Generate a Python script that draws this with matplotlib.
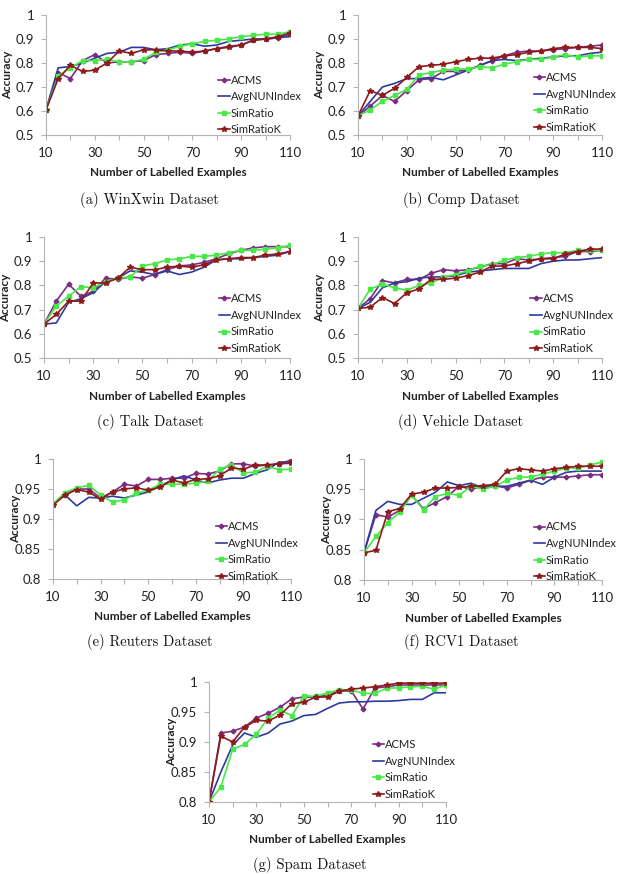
import matplotlib
matplotlib.use('Agg')
import matplotlib.pyplot as plt
from matplotlib.ticker import MultipleLocator, FixedLocator, FuncFormatter

# number of labelled examples (x axis)
n_labelled = [10, 15, 20, 25, 30, 35, 40, 45, 50, 55, 60, 65, 70, 75, 80, 85, 90, 95, 100, 105, 110]
x_ticks = [10, 30, 50, 70, 90, 110]
methods = ['ACMS', 'AvgNUNIndex', 'SimRatio', 'SimRatioK']

# (a) WinXwin
winxwin_acms = [0.605, 0.76, 0.735, 0.81, 0.835, 0.80, 0.805, 0.805, 0.81, 0.835, 0.84, 0.845, 0.84, 0.85, 0.86, 0.87, 0.875, 0.895, 0.90, 0.905, 0.92]
winxwin_avg = [0.605, 0.78, 0.785, 0.80, 0.82, 0.84, 0.845, 0.865, 0.865, 0.855, 0.86, 0.875, 0.88, 0.87, 0.875, 0.89, 0.895, 0.90, 0.90, 0.905, 0.91]
winxwin_sim = [0.605, 0.745, 0.78, 0.81, 0.81, 0.815, 0.805, 0.805, 0.815, 0.845, 0.855, 0.87, 0.88, 0.89, 0.895, 0.90, 0.91, 0.915, 0.92, 0.92, 0.93]
winxwin_simk = [0.605, 0.735, 0.79, 0.765, 0.77, 0.80, 0.85, 0.84, 0.855, 0.855, 0.85, 0.85, 0.845, 0.85, 0.86, 0.865, 0.875, 0.895, 0.90, 0.91, 0.925]

# (b) Comp
comp_acms = [0.58, 0.62, 0.665, 0.64, 0.685, 0.73, 0.735, 0.765, 0.765, 0.77, 0.79, 0.81, 0.83, 0.845, 0.85, 0.85, 0.855, 0.86, 0.865, 0.87, 0.875]
comp_avg = [0.58, 0.64, 0.70, 0.715, 0.735, 0.735, 0.74, 0.73, 0.75, 0.77, 0.79, 0.81, 0.815, 0.81, 0.815, 0.82, 0.825, 0.83, 0.83, 0.84, 0.845]
comp_sim = [0.58, 0.605, 0.64, 0.665, 0.69, 0.75, 0.76, 0.77, 0.775, 0.775, 0.785, 0.78, 0.795, 0.805, 0.815, 0.815, 0.825, 0.835, 0.825, 0.83, 0.83]
comp_simk = [0.58, 0.685, 0.665, 0.695, 0.74, 0.785, 0.79, 0.795, 0.805, 0.815, 0.82, 0.82, 0.83, 0.835, 0.845, 0.85, 0.86, 0.865, 0.865, 0.865, 0.86]

# (c) Talk
talk_acms = [0.64, 0.735, 0.805, 0.755, 0.775, 0.83, 0.825, 0.835, 0.83, 0.845, 0.865, 0.88, 0.885, 0.895, 0.91, 0.93, 0.945, 0.955, 0.96, 0.96, 0.96]
talk_avg = [0.64, 0.645, 0.73, 0.745, 0.77, 0.815, 0.83, 0.86, 0.855, 0.845, 0.86, 0.845, 0.855, 0.875, 0.905, 0.91, 0.91, 0.915, 0.92, 0.925, 0.94]
talk_sim = [0.64, 0.715, 0.755, 0.795, 0.79, 0.815, 0.83, 0.835, 0.88, 0.89, 0.905, 0.91, 0.92, 0.92, 0.925, 0.935, 0.945, 0.945, 0.95, 0.955, 0.965]
talk_simk = [0.64, 0.68, 0.735, 0.735, 0.81, 0.81, 0.83, 0.875, 0.865, 0.865, 0.875, 0.88, 0.875, 0.885, 0.905, 0.91, 0.915, 0.915, 0.925, 0.93, 0.94]

# (d) Vehicle
vehicle_acms = [0.705, 0.745, 0.82, 0.81, 0.825, 0.825, 0.85, 0.865, 0.86, 0.865, 0.875, 0.89, 0.89, 0.91, 0.905, 0.91, 0.915, 0.92, 0.94, 0.94, 0.945]
vehicle_avg = [0.705, 0.73, 0.79, 0.81, 0.815, 0.83, 0.835, 0.835, 0.84, 0.855, 0.86, 0.865, 0.87, 0.87, 0.87, 0.89, 0.90, 0.905, 0.905, 0.91, 0.915]
vehicle_sim = [0.705, 0.785, 0.805, 0.79, 0.78, 0.80, 0.81, 0.835, 0.845, 0.86, 0.88, 0.885, 0.905, 0.915, 0.92, 0.93, 0.935, 0.935, 0.945, 0.945, 0.945]
vehicle_simk = [0.705, 0.71, 0.75, 0.725, 0.77, 0.785, 0.825, 0.825, 0.83, 0.84, 0.855, 0.88, 0.88, 0.89, 0.90, 0.91, 0.91, 0.93, 0.94, 0.95, 0.95]

# (e) Reuters
reuters_acms = [0.925, 0.94, 0.95, 0.95, 0.935, 0.945, 0.958, 0.955, 0.966, 0.966, 0.968, 0.968, 0.976, 0.975, 0.98, 0.992, 0.992, 0.988, 0.99, 0.992, 0.998]
reuters_avg = [0.925, 0.94, 0.922, 0.936, 0.935, 0.938, 0.935, 0.94, 0.945, 0.955, 0.965, 0.972, 0.965, 0.96, 0.965, 0.968, 0.968, 0.976, 0.982, 0.995, 0.995]
reuters_sim = [0.925, 0.944, 0.952, 0.956, 0.94, 0.928, 0.932, 0.943, 0.948, 0.958, 0.958, 0.958, 0.96, 0.963, 0.983, 0.99, 0.977, 0.978, 0.988, 0.982, 0.983]
reuters_simk = [0.923, 0.94, 0.949, 0.945, 0.933, 0.945, 0.95, 0.952, 0.948, 0.953, 0.965, 0.96, 0.966, 0.967, 0.972, 0.985, 0.983, 0.99, 0.99, 0.992, 0.993]

# (f) RCV1
rcv1_acms = [0.845, 0.908, 0.904, 0.915, 0.94, 0.918, 0.928, 0.938, 0.955, 0.95, 0.955, 0.956, 0.952, 0.958, 0.965, 0.97, 0.97, 0.97, 0.972, 0.974, 0.974]
rcv1_avg = [0.845, 0.915, 0.93, 0.925, 0.925, 0.935, 0.945, 0.962, 0.956, 0.96, 0.952, 0.955, 0.955, 0.96, 0.965, 0.958, 0.97, 0.978, 0.98, 0.98, 0.98]
rcv1_sim = [0.845, 0.872, 0.895, 0.912, 0.94, 0.916, 0.938, 0.943, 0.94, 0.955, 0.95, 0.955, 0.965, 0.97, 0.97, 0.975, 0.98, 0.985, 0.985, 0.99, 0.995]
rcv1_simk = [0.845, 0.849, 0.913, 0.918, 0.942, 0.945, 0.952, 0.952, 0.953, 0.955, 0.956, 0.958, 0.98, 0.984, 0.982, 0.98, 0.984, 0.986, 0.988, 0.988, 0.988]

# (g) Spam
spam_acms = [0.80, 0.915, 0.918, 0.925, 0.94, 0.948, 0.958, 0.972, 0.975, 0.975, 0.978, 0.985, 0.985, 0.955, 0.99, 0.992, 0.995, 0.995, 0.995, 0.995, 0.995]
spam_avg = [0.80, 0.85, 0.895, 0.915, 0.908, 0.915, 0.93, 0.935, 0.944, 0.946, 0.956, 0.965, 0.967, 0.967, 0.968, 0.968, 0.969, 0.971, 0.971, 0.982, 0.982]
spam_sim = [0.80, 0.825, 0.888, 0.896, 0.913, 0.94, 0.953, 0.944, 0.977, 0.976, 0.982, 0.987, 0.987, 0.981, 0.981, 0.99, 0.99, 0.992, 0.993, 0.988, 0.995]
spam_simk = [0.80, 0.91, 0.90, 0.925, 0.936, 0.935, 0.945, 0.964, 0.966, 0.975, 0.975, 0.985, 0.988, 0.99, 0.992, 0.995, 0.998, 0.998, 0.998, 0.998, 0.998]

colors = ['#7B2D83', '#2D3A9E', '#47E847', '#8E1B1B']
markers = ['D', None, 's', '*']
msizes = [2.4, 0, 3.4, 4.0]

W, H = 621, 874
fig = plt.figure(figsize=(W / 100, H / 100), dpi=100)

SANS = 'Lato'
TXT = '#222222'
AX = '#b4b4b4'


def add_panel(left, top, right, bottom, series, ylo, ystep, caption, cap_x, cap_y, leg_xy):
    ax = fig.add_axes([left / W, 1 - bottom / H, (right - left) / W, (bottom - top) / H])
    for vals, name, c, m, ms in zip(series, methods, colors, markers, msizes):
        ax.plot(n_labelled, vals, color=c, lw=1.2, marker=m, ms=ms, mec=c, mfc=c, label=name)
    ax.set_xlim(10, 110)
    ax.set_ylim(ylo, 1)
    ax.xaxis.set_major_locator(FixedLocator(x_ticks))
    ax.xaxis.set_minor_locator(MultipleLocator(10))
    ax.yaxis.set_major_locator(MultipleLocator(ystep))
    ax.yaxis.set_major_formatter(FuncFormatter(lambda v, p: ('%.2f' % v).rstrip('0').rstrip('.')))
    for s in ['top', 'right']:
        ax.spines[s].set_visible(False)
    for s in ['left', 'bottom']:
        ax.spines[s].set_color(AX)
        ax.spines[s].set_linewidth(0.8)
    ax.tick_params(which='both', direction='out', length=3.5, color=AX, width=0.8,
                   labelsize=9.5, labelcolor=TXT, pad=5)
    for lab in ax.get_xticklabels() + ax.get_yticklabels():
        lab.set_fontfamily(SANS)
    ax.set_xlabel('Number of Labelled Examples', fontfamily=SANS, fontweight='bold',
                  fontsize=8.5, color=TXT)
    ax.set_ylabel('Accuracy', fontfamily=SANS, fontweight='bold', fontsize=8.5, color=TXT)
    ax.xaxis.set_label_coords(0.5, -0.27)
    ax.yaxis.set_label_coords(-0.135, 0.5)
    leg = ax.legend(loc='upper left', bbox_to_anchor=leg_xy, frameon=False, borderpad=0,
                    handlelength=1.0, handletextpad=0.1, labelspacing=0.5,
                    prop={'family': SANS, 'size': 8.0}, markerscale=1.0)
    for t in leg.get_texts():
        t.set_color(TXT)
    fig.text(cap_x / W, 1 - cap_y / H, caption, fontfamily='cmr10', fontsize=10.5,
             ha='center', va='center', color='#111111')
    return ax


add_panel(46, 15, 290, 135, [winxwin_acms, winxwin_avg, winxwin_sim, winxwin_simk],
          0.5, 0.1, '(a) WinXwin Dataset', 150, 200, (0.684, 0.55))
add_panel(358, 15, 602, 135, [comp_acms, comp_avg, comp_sim, comp_simk],
          0.5, 0.1, '(b) Comp Dataset', 461, 200, (0.697, 0.57))
add_panel(44, 237, 290, 358, [talk_acms, talk_avg, talk_sim, talk_simk],
          0.5, 0.1, '(c) Talk Dataset', 150, 422, (0.687, 0.58))
add_panel(358, 237, 602, 358, [vehicle_acms, vehicle_avg, vehicle_sim, vehicle_simk],
          0.5, 0.1, '(d) Vehicle Dataset', 461, 422, (0.684, 0.58))
add_panel(53, 459, 291, 579, [reuters_acms, reuters_avg, reuters_sim, reuters_simk],
          0.8, 0.05, '(e) Reuters Dataset', 150, 642, (0.66, 0.53))
add_panel(364, 459, 602, 580, [rcv1_acms, rcv1_avg, rcv1_sim, rcv1_simk],
          0.8, 0.05, '(f) RCV1 Dataset', 461, 642, (0.69, 0.53))
add_panel(209, 682, 446, 802, [spam_acms, spam_avg, spam_sim, spam_simk],
          0.8, 0.05, '(g) Spam Dataset', 310, 865, (0.667, 0.57))

fig.savefig('out.png', dpi=100, facecolor='white')
